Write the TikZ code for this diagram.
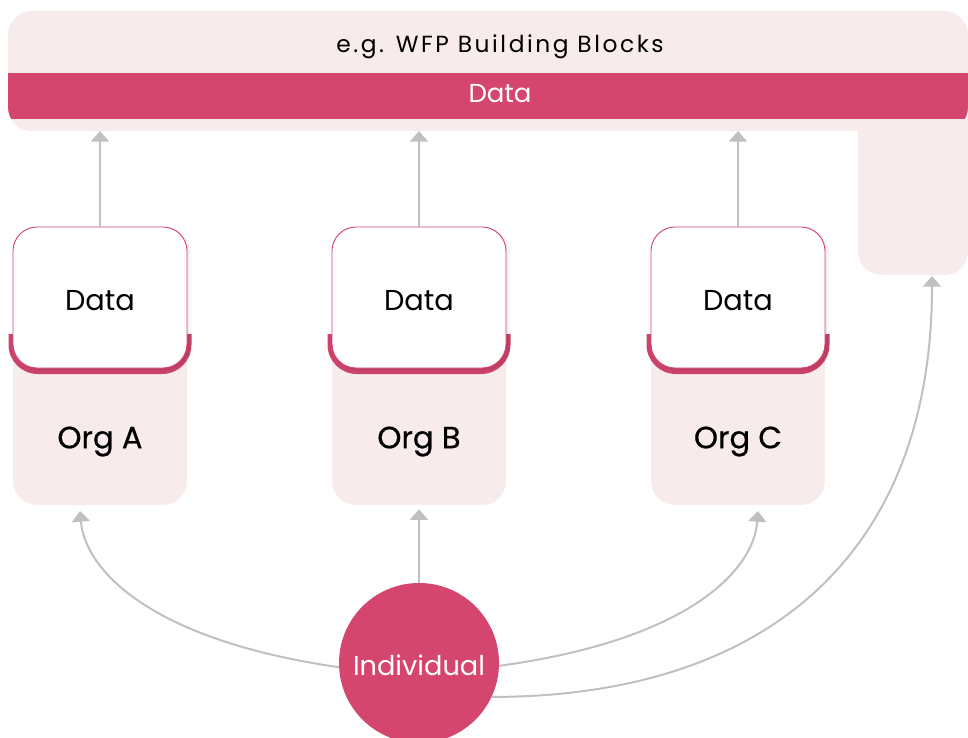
\documentclass[tikz,border=0pt]{standalone}
\usepackage{fontspec}
\setmainfont{Poppins}
\newfontfamily\orgfont{Poppins}[FakeBold=0.6]
\usetikzlibrary{arrows.meta,calc}

\definecolor{rose}{HTML}{D5466F}
\definecolor{roseDark}{HTML}{C9436A}
\definecolor{blush}{HTML}{F7EBEC}
\definecolor{wire}{HTML}{C0C0C0}

\begin{document}
\begin{tikzpicture}[x=0.75pt,y=-0.75pt,
  arr/.style={draw=wire, line width=1.5pt, -{Triangle[length=8pt,width=13.5pt]}},
  orgbox/.style={rectangle, rounded corners=18pt, fill=blush, minimum width=130.5pt, minimum height=208.5pt, inner sep=0pt},
  databox/.style={rectangle, rounded corners=18pt, fill=white, draw=rose, line width=0.7pt, minimum width=130.5pt, minimum height=105.75pt, inner sep=0pt, text height=19.6pt, text depth=0pt, font=\fontsize{21.6}{24}\selectfont},
  orglabel/.style={inner sep=0pt, text height=16.1pt, text depth=0pt, font=\orgfont\fontsize{23}{26}\selectfont},
  person/.style={circle, fill=rose, text=white, minimum size=120pt, inner sep=0pt, text height=18.8pt, text depth=0pt, font=\fontsize{20.4}{23}\selectfont}
]
\useasboundingbox (0,0) rectangle (968,738);

% building blocks panel (L-shaped) with its data band
\fill[blush, rounded corners=18pt] (8,11) rectangle (968,131);
\fill[blush, rounded corners=18pt] (858,60) rectangle (968,275);
\begin{scope}
  \clip[rounded corners=18pt] (8,11) rectangle (968,131);
  \fill[rose] (8,73) rectangle (968,119);
\end{scope}
\node[inner sep=0pt, text height=12.2pt, text depth=0pt, font=\fontsize{17.5}{20}\selectfont\addfontfeature{LetterSpace=11}] (bbtitle) at (500,44) {e.g. WFP Building Blocks};
\node[inner sep=0pt, text height=13.6pt, text depth=0pt, text=white, font=\fontsize{19.5}{22}\selectfont] (bbdata) at (500,93.5) {Data};
\coordinate (bbS) at (0,131);
\coordinate (bbR) at (932,276);

% organisations, each holding its own data
\foreach \x/\l in {100/A,419/B,738/C}{
  \node[orgbox] (org\l) at (\x,366) {};
  \node[orglabel] (org\l lbl) at (\x,437.5) {Org \l};
  \begin{scope}
    \clip (\x-100,334) rectangle (\x+100,390);
    \fill[roseDark, rounded corners=22pt] (\x-91.5,280) rectangle (\x+91.5,374);
  \end{scope}
  \foreach \s in {1,2,3}{
    \fill[black, opacity=0.025, rounded corners=18pt] (\x-87+\s,227+0.5*\s) rectangle (\x+87+1.5*\s,368+\s);
  }
  \node[databox] (data\l) at (\x,297.5) {Data};
  \draw[arr] (data\l.north) -- (data\l.north |- bbS);
}

% the individual sharing data with every party
\node[person] (ind) at (419,663) {Individual};
\coordinate (inA) at (80,511);
\coordinate (inC) at (758,511);

\draw[arr] (ind.north) -- ([yshift=-3]orgB.south);
\draw[arr] (ind.183) .. controls (150,640) and (85,570) .. (inA);
\draw[arr] (ind.-2) .. controls (689,640) and (754,570) .. (inC);
\draw[arr] (ind.-25) .. controls (760,697) and (932,560) .. (bbR);
\end{tikzpicture}
\end{document}
